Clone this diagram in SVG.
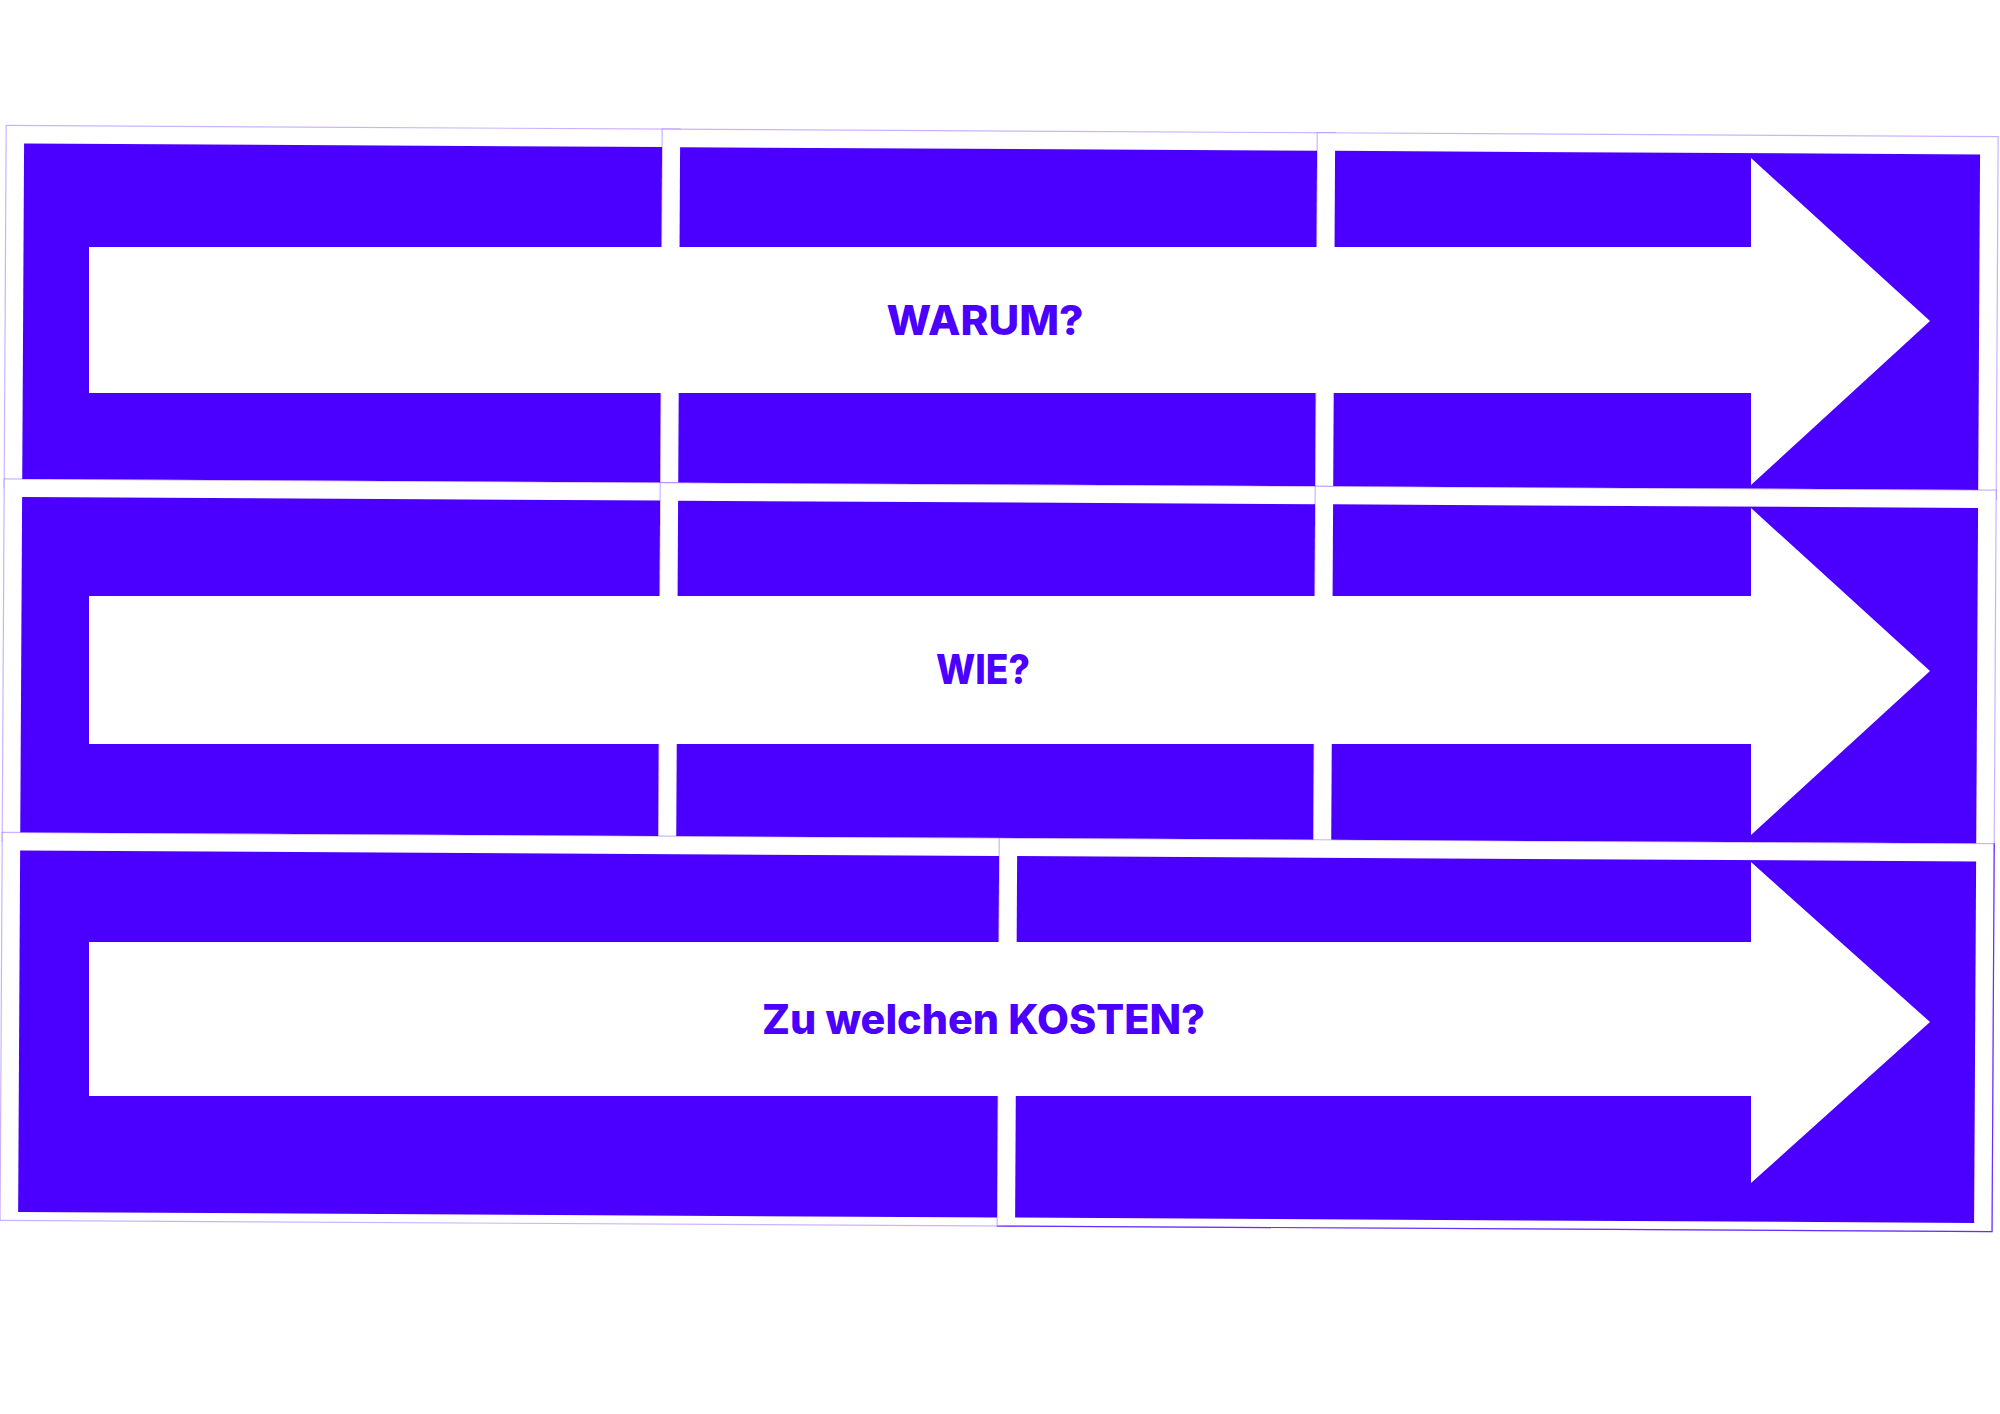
<svg xmlns="http://www.w3.org/2000/svg" width="2000" height="1414" viewBox="0 0 2000 1414">
<style>
.card{fill:#ffffff;stroke:#4B00FF;stroke-opacity:0.3;stroke-width:1.2}
.tile{fill:#4B00FF}
.edge{fill:none;stroke:#4B00FF;stroke-opacity:0.75;stroke-width:1.2}
.arrow{fill:#ffffff}
.lbl{font-family:Inter,"Open Sans","Liberation Sans",sans-serif;font-weight:800;font-size:41px;fill:#4B00FF;text-anchor:middle}
</style>
<rect width="2000" height="1414" fill="#ffffff"/>
<g id="tiles" transform="rotate(0.32 1000 700)">
  <g id="row1-tiles">
    <rect class="card" x="3" y="131" width="674" height="362.5"/>
    <rect class="tile" x="21" y="149" width="638" height="335.5"/>
    <rect class="card" x="659" y="131" width="673" height="362.5"/>
    <rect class="tile" x="677" y="149" width="637" height="335.5"/>
    <rect class="card" x="1314" y="131" width="681" height="362.5"/>
    <rect class="tile" x="1332" y="149" width="645" height="335.5"/>
  </g>
  <g id="row2-tiles">
    <rect class="card" x="3" y="484.5" width="674" height="362.5"/>
    <rect class="tile" x="21" y="502.5" width="638" height="335.5"/>
    <rect class="card" x="659" y="484.5" width="673" height="362.5"/>
    <rect class="tile" x="677" y="502.5" width="637" height="335.5"/>
    <rect class="card" x="1314" y="484.5" width="681" height="362.5"/>
    <rect class="tile" x="1332" y="502.5" width="645" height="335.5"/>
  </g>
  <g id="row3-tiles">
    <rect class="card" x="3" y="838" width="1015" height="388"/>
    <rect class="tile" x="21" y="856" width="979" height="361.5"/>
    <rect class="card" x="1000" y="838" width="995" height="388"/>
    <rect class="tile" x="1018" y="856" width="959" height="361.5"/>
    <polyline class="edge" points="1000,1226 1995,1226 1995,838"/>
  </g>
</g>
<g id="node-warum">
  <polygon class="arrow" points="89,247 1751,247 1751,158 1930,321 1751,485 1751,393 89,393"/>
  <text class="lbl" x="985" y="335" textLength="197" lengthAdjust="spacingAndGlyphs">WARUM?</text>
</g>
<g id="node-wie">
  <polygon class="arrow" points="89,596 1751,596 1751,508 1930,671 1751,835 1751,744 89,744"/>
  <text class="lbl" x="983" y="684" textLength="94" lengthAdjust="spacingAndGlyphs">WIE?</text>
</g>
<g id="node-kosten">
  <polygon class="arrow" points="89,942 1751,942 1751,862 1930,1022 1751,1183 1751,1096 89,1096"/>
  <text class="lbl" x="983.5" y="1034" textLength="443" lengthAdjust="spacingAndGlyphs">Zu welchen KOSTEN?</text>
</g>
<g id="connectors"/>
</svg>
